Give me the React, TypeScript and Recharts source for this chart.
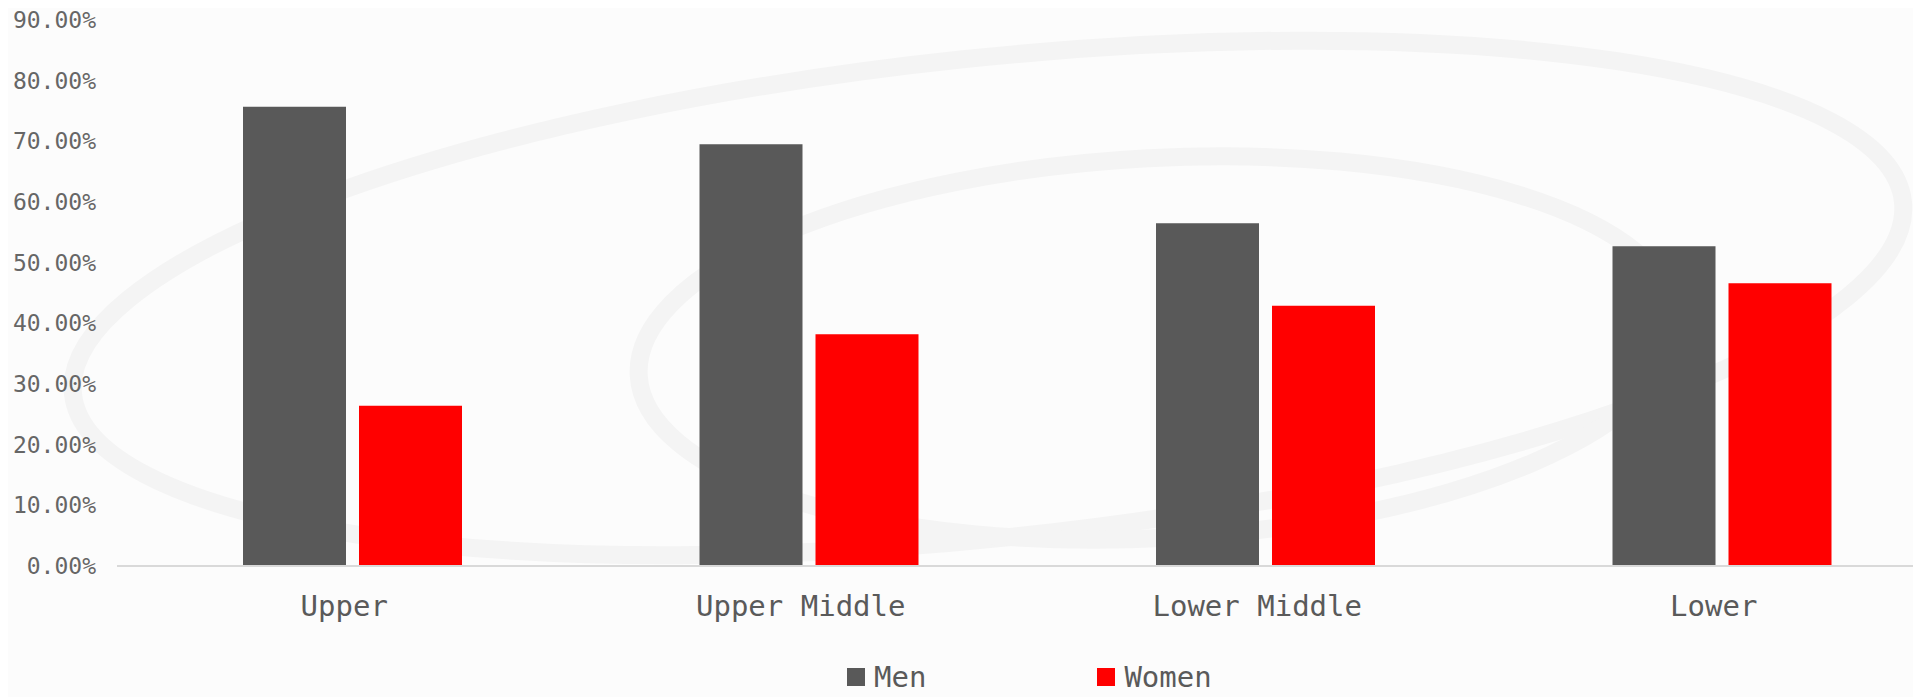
import React from 'react';
import { BarChart, Bar, XAxis, YAxis, Legend } from 'recharts';

const categories = ['Upper', 'Upper Middle', 'Lower Middle', 'Lower'];
const menValues = [75.7, 69.5, 56.5, 52.7];
const womenValues = [26.4, 38.2, 42.9, 46.6];
const yTicks = [0, 10, 20, 30, 40, 50, 60, 70, 80, 90];

const data = categories.map((c, i) => ({ name: c, Men: menValues[i], Women: womenValues[i] }));

const FONT = '"DejaVu Sans Mono", "Liberation Mono", monospace';
const MEN = '#595959';
const WOMEN = '#ff0000';

const LegendContent = () => (
  <div style={{ display: 'flex', alignItems: 'center', gap: 171, fontFamily: FONT, fontSize: 29, color: '#5a5a5a', lineHeight: '24px' }}>
    {[{ k: 'Men', c: MEN }, { k: 'Women', c: WOMEN }].map((it) => (
      <div key={it.k} style={{ display: 'flex', alignItems: 'center' }}>
        <span style={{ display: 'inline-block', width: 18, height: 18, background: it.c, marginRight: 9 }} />
        <span>{it.k}</span>
      </div>
    ))}
  </div>
);

export default function App() {
  return (
    <div style={{ position: 'relative', width: 1913, height: 689, overflow: 'hidden', background: '#fcfcfc' }}>
      <svg width={1913} height={689} style={{ position: 'absolute', left: 0, top: 0 }}>
        <g fill="none" stroke="#f4f4f4" strokeWidth={18}>
          <ellipse cx={980} cy={290} rx={920} ry={240} transform="rotate(-6 980 290)" />
          <ellipse cx={1150} cy={340} rx={520} ry={190} transform="rotate(-3 1150 340)" />
        </g>
      </svg>
      <div style={{ position: 'absolute', left: 0, top: 0 }}>
        <BarChart width={1945} height={689} data={data} margin={{ top: 12, right: 3, left: 0, bottom: 0 }} barSize={103} barGap={13}>
          <XAxis
            dataKey="name"
            height={131}
            padding={{ left: 7, right: 0 }}
            tickLine={false}
            tickSize={0}
            tickMargin={29}
            axisLine={{ stroke: '#d9d9d9', strokeWidth: 2 }}
            tick={{ fontFamily: FONT, fontSize: 29, fill: '#5a5a5a' }}
            dx={-8}
          />
          <YAxis
            width={109}
            domain={[0, 90]}
            ticks={yTicks}
            interval={0}
            tickLine={false}
            tickSize={0}
            tickMargin={21}
            axisLine={false}
            tickFormatter={(v: number) => v.toFixed(2) + '%'}
            tick={{ fontFamily: FONT, fontSize: 23, fill: '#666' }}
          />
          <Legend verticalAlign="middle" align="center" content={<LegendContent />} wrapperStyle={{ left: 839, top: 657, width: 'auto' }} />
          <Bar dataKey="Men" fill={MEN} isAnimationActive={false} />
          <Bar dataKey="Women" fill={WOMEN} isAnimationActive={false} />
        </BarChart>
      </div>
    </div>
  );
}
